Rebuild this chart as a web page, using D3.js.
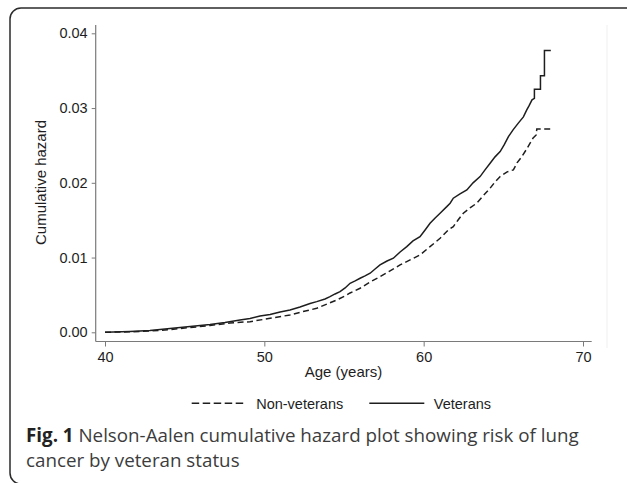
<!DOCTYPE html>
<html>
<head>
<meta charset="utf-8">
<script src="https://cdn.jsdelivr.net/npm/d3@7"></script>
<style>
  body { margin: 0; background: #fff; }
  svg { display: block; }
</style>
</head>
<body>
<div id="chart"></div>
<script>
// ages (years) and cumulative hazard
// (repeated ages mark the visible jumps of the step function near the end)
var vetAge = [40.00, 41.57, 42.82, 44.08, 45.34, 46.59, 47.53, 48.47, 49.10, 49.73,
  50.36, 50.99, 51.61, 52.24, 52.87, 53.29, 53.81, 54.12, 54.44, 54.75,
  55.07, 55.38, 55.70, 56.01, 56.32, 56.64, 56.95, 57.26, 57.70, 58.10,
  58.52, 58.94, 59.33, 59.77, 60.09, 60.40, 60.72, 61.03, 61.45, 61.66,
  61.86, 62.28, 62.71, 63.10, 63.54, 63.85, 64.17, 64.48, 64.80, 65.05,
  65.32, 65.61, 65.94, 66.26, 66.47, 66.61, 66.80, 66.95, 66.95, 67.33,
  67.33, 67.58, 67.58, 67.98];
var vetHaz = [0.00000, 0.00011, 0.00024, 0.00051, 0.00078, 0.00104, 0.00131, 0.00165, 0.00185, 0.00218,
  0.00238, 0.00272, 0.00299, 0.00339, 0.00386, 0.00410, 0.00446, 0.00477, 0.00513, 0.00544,
  0.00593, 0.00656, 0.00687, 0.00723, 0.00754, 0.00790, 0.00847, 0.00901, 0.00954, 0.00991,
  0.01075, 0.01146, 0.01222, 0.01280, 0.01369, 0.01459, 0.01530, 0.01593, 0.01681, 0.01727,
  0.01794, 0.01851, 0.01905, 0.01999, 0.02083, 0.02173, 0.02262, 0.02347, 0.02418, 0.02507,
  0.02618, 0.02708, 0.02798, 0.02882, 0.02976, 0.03029, 0.03110, 0.03130, 0.03253, 0.03253,
  0.03431, 0.03431, 0.03770, 0.03770];

var nonAge = [40.00, 41.57, 42.82, 44.08, 45.34, 46.59, 47.85, 49.10, 50.36, 51.61,
  52.43, 53.29, 53.94, 54.54, 55.07, 55.38, 56.01, 56.64, 57.26, 57.89,
  58.52, 59.15, 59.77, 60.40, 61.03, 61.55, 61.86, 62.16, 62.49, 62.91,
  63.33, 63.73, 64.17, 64.48, 64.80, 65.24, 65.63, 65.86, 66.16, 66.43,
  66.68, 66.87, 67.06, 67.10, 68.04];
var nonHaz = [0.00000, 0.00007, 0.00017, 0.00037, 0.00064, 0.00091, 0.00124, 0.00142, 0.00187, 0.00232,
  0.00278, 0.00321, 0.00379, 0.00432, 0.00486, 0.00526, 0.00589, 0.00673, 0.00744, 0.00821,
  0.00901, 0.00968, 0.01035, 0.01146, 0.01258, 0.01369, 0.01414, 0.01503, 0.01593, 0.01664,
  0.01727, 0.01825, 0.01928, 0.02012, 0.02083, 0.02146, 0.02173, 0.02266, 0.02351, 0.02440,
  0.02530, 0.02601, 0.02640, 0.02720, 0.02720];

var xTicks = [40, 50, 60, 70];
var yTicks = [0, 0.01, 0.02, 0.03, 0.04];
var seriesNames = ['Non-veterans', 'Veterans'];

var width = 627, height = 483;
var axisColor = '#7a7a7a';
var inkColor = '#1e1e1e';

var svg = d3.select('#chart').append('svg')
  .attr('width', width)
  .attr('height', height);

// rounded frame around figure + caption
svg.append('rect')
  .attr('x', 10).attr('y', 8)
  .attr('width', 640).attr('height', 476)
  .attr('rx', 11)
  .attr('fill', 'none')
  .attr('stroke', '#2b2b2b')
  .attr('stroke-width', 1.5);

// faint edge of the embedded plot image
svg.append('line')
  .attr('x1', 607).attr('x2', 607)
  .attr('y1', 25).attr('y2', 348)
  .attr('stroke', '#efefef');

var x = d3.scaleLinear().domain([40, 70]).range([105, 583]);
var y = d3.scaleLinear().domain([0, 0.04]).range([332.3, 33.3]);

// axes
var xAxis = svg.append('g')
  .attr('transform', 'translate(0,341.5)')
  .call(d3.axisBottom(x).tickValues(xTicks).tickSize(5).tickPadding(4).tickSizeOuter(0));
var yAxis = svg.append('g')
  .attr('transform', 'translate(95.7,0)')
  .call(d3.axisLeft(y).tickValues(yTicks).tickSize(4).tickPadding(4).tickSizeOuter(0)
    .tickFormat(d3.format('.2f')));

[xAxis, yAxis].forEach(function(ax) {
  ax.select('.domain').remove();
  ax.selectAll('line').attr('stroke', axisColor);
  ax.selectAll('text')
    .attr('fill', inkColor)
    .style('font-family', '"Liberation Sans", Arial, sans-serif')
    .style('font-size', '14.5px');
});
xAxis.selectAll('text').attr('y', 10);

// axis lines (Stata style: extend past the ticks)
svg.append('line')
  .attr('x1', 95.7).attr('x2', 591.7)
  .attr('y1', 341.5).attr('y2', 341.5)
  .attr('stroke', axisColor).attr('stroke-width', 1.2);
svg.append('line')
  .attr('x1', 95.7).attr('x2', 95.7)
  .attr('y1', 25).attr('y2', 341.5)
  .attr('stroke', axisColor).attr('stroke-width', 1.2);

// axis titles
svg.append('text')
  .attr('x', 343.5).attr('y', 377)
  .attr('text-anchor', 'middle')
  .attr('fill', inkColor)
  .style('font-family', '"Liberation Sans", Arial, sans-serif')
  .style('font-size', '15px')
  .text('Age (years)');
svg.append('text')
  .attr('transform', 'translate(46,182.5) rotate(-90)')
  .attr('text-anchor', 'middle')
  .attr('fill', inkColor)
  .style('font-family', '"Liberation Sans", Arial, sans-serif')
  .style('font-size', '15px')
  .text('Cumulative hazard');

// curves
var line = d3.line()
  .x(function(d){ return x(d[0]); })
  .y(function(d){ return y(d[1]); });

var nonData = nonAge.map(function(a, i){ return [a, nonHaz[i]]; });
var vetData = vetAge.map(function(a, i){ return [a, vetHaz[i]]; });

svg.append('path')
  .datum(nonData)
  .attr('d', line)
  .attr('fill', 'none')
  .attr('stroke', inkColor)
  .attr('stroke-width', 1.5)
  .attr('stroke-dasharray', '6,3.5');
svg.append('path')
  .datum(vetData)
  .attr('d', line)
  .attr('fill', 'none')
  .attr('stroke', inkColor)
  .attr('stroke-width', 1.5);

// legend
var legend = svg.append('g').attr('transform', 'translate(0,403.3)');
var legendItems = [
  {name: seriesNames[0], x0: 191.7, dash: '7.5,3.5'},
  {name: seriesNames[1], x0: 369.3, dash: null}
];
legendItems.forEach(function(d) {
  legend.append('line')
    .attr('x1', d.x0).attr('x2', d.x0 + 55)
    .attr('y1', 0).attr('y2', 0)
    .attr('stroke', inkColor)
    .attr('stroke-width', 1.5)
    .attr('stroke-dasharray', d.dash);
  legend.append('text')
    .attr('x', d.x0 + 64.5).attr('y', 5.3)
    .attr('fill', inkColor)
    .style('font-family', '"Liberation Sans", Arial, sans-serif')
    .style('font-size', '14.5px')
    .text(d.name);
});

// caption
var cap = svg.append('g')
  .style('font-family', '"Open Sans", "Noto Sans", sans-serif')
  .style('font-size', '18px');
var line1 = cap.append('text').attr('x', 26).attr('y', 442).attr('fill', '#3c3c3c');
line1.append('tspan').attr('font-weight', 'bold').attr('fill', '#222').text('Fig. 1');
line1.append('tspan').text(' Nelson-Aalen cumulative hazard plot showing risk of lung');
cap.append('text').attr('x', 26).attr('y', 467).attr('fill', '#3c3c3c')
  .text('cancer by veteran status');

// fit caption font size to reference width of first line
var w = line1.node().getComputedTextLength();
cap.style('font-size', (18 * 553 / w).toFixed(2) + 'px');
</script>
</body>
</html>
